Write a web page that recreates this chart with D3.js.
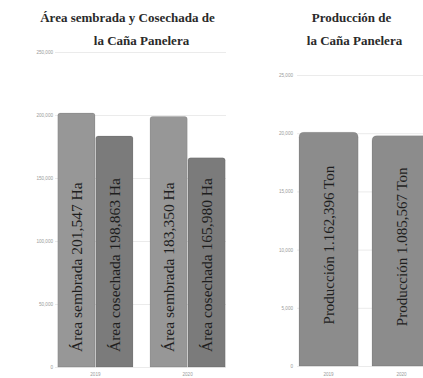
<!DOCTYPE html>
<html><head><meta charset="utf-8">
<script src="https://cdn.jsdelivr.net/npm/d3@7"></script>
<style>html,body{margin:0;padding:0;background:#fff;}svg{display:block;}</style>
</head><body>
<svg id="c" width="423" height="378"></svg>
<script>
// ---- data ----
const areaYears = ["2019", "2020"];
const areaSeries = ["sembrada", "cosechada"];
const areaSembrada = [201547, 198863];
const areaCosechada = [183350, 165980];
const areaLabels = [
  ["Área sembrada 201,547 Ha", "Área cosechada 198,863 Ha"],
  ["Área sembrada 183,350 Ha", "Área cosechada 165,980 Ha"]
];
const areaTicks = [0, 50000, 100000, 150000, 200000, 250000];
const areaTitle = ["Área sembrada y Cosechada de", "la Caña Panelera"];

const prodYears = ["2019", "2020"];
const prodValues = [20080, 19790];
const prodLabels = ["Producción 1.162,396 Ton", "Producción 1.085,567 Ton"];
const prodTicks = [0, 5000, 10000, 15000, 20000, 25000];
const prodTitle = ["Producción de", "la Caña Panelera"];

const svg = d3.select("#c");
const fmt = d3.format(",");

function topRounded(x, y, w, h, r) {
  r = Math.min(r, w / 2, h);
  return `M${x},${y + h}V${y + r}Q${x},${y} ${x + r},${y}H${x + w - r}Q${x + w},${y} ${x + w},${y + r}V${y + h}Z`;
}

function axisY(g, y, ticks, x0, x1, labelX) {
  const ax = d3.axisLeft(y).tickValues(ticks).tickFormat(fmt).tickSize(-(x1 - x0)).tickPadding(labelX);
  g.attr("transform", `translate(${x0},0)`).call(ax);
  g.select(".domain").remove();
  g.selectAll(".tick line").attr("stroke", "#ebebeb").attr("stroke-width", 1);
  g.selectAll(".tick text").attr("fill", "#9a9a9a").attr("font-size", 4.6).attr("font-family", "Liberation Sans, Arial, sans-serif");
}

// ---- left chart ----
{
  const y = d3.scaleLinear().domain([0, 250000]).range([367, 52]);
  const x0 = d3.scaleBand().domain(areaYears).range([49.5, 233.5]).paddingInner(0.185).paddingOuter(0.09);
  const x1 = d3.scaleBand().domain(areaSeries).range([0, x0.bandwidth()]).paddingInner(0.02);
  axisY(svg.append("g"), y, areaTicks, 55, 226, 2);
  const colors = { sembrada: "#979797", cosechada: "#7b7b7b" };
  const rows = [];
  areaYears.forEach((yr, i) => {
    rows.push({ yr, s: "sembrada", v: areaSembrada[i], label: areaLabels[i][0] });
    rows.push({ yr, s: "cosechada", v: areaCosechada[i], label: areaLabels[i][1] });
  });
  svg.append("g").selectAll("path").data(rows).join("path")
    .attr("d", d => topRounded(x0(d.yr) + x1(d.s), y(d.v), x1.bandwidth(), y(0) - y(d.v), 2.5))
    .attr("fill", d => colors[d.s]).attr("stroke", "rgba(0,0,0,0.12)").attr("stroke-width", 0.8);
  svg.append("g").selectAll("text").data(rows).join("text")
    .attr("transform", d => `translate(${x0(d.yr) + x1(d.s) + x1.bandwidth() / 2 + 5.5},${y(0) - 15}) rotate(-90)`)
    .attr("text-anchor", "start")
    .attr("font-family", "Liberation Serif, Times New Roman, serif")
    .attr("font-size", 15.5).attr("fill", "#1e1e1e")
    .text(d => d.label);
  svg.append("g").selectAll("text").data(areaYears).join("text")
    .attr("x", d => x0(d) + x0.bandwidth() / 2).attr("y", 376)
    .attr("text-anchor", "middle").attr("font-size", 4.6).attr("fill", "#9a9a9a")
    .attr("font-family", "Liberation Sans, Arial, sans-serif").text(d => d);
  const tx = [127.5, 141.5];
  svg.append("g").selectAll("text").data(areaTitle).join("text")
    .attr("x", (d, i) => tx[i]).attr("y", (d, i) => 22 + i * 23)
    .attr("text-anchor", "middle").attr("font-family", "Liberation Serif, Times New Roman, serif")
    .attr("font-weight", "bold").attr("font-size", 13).attr("fill", "#2a2a2a").text(d => d);
}

// ---- right chart ----
{
  const y = d3.scaleLinear().domain([0, 25000]).range([366, 75]);
  const x = d3.scaleBand().domain(prodYears).range([295.35, 434.8]).paddingInner(0.19).paddingOuter(0.05);
  axisY(svg.append("g"), y, prodTicks, 297, 423, 4);
  const rows = prodYears.map((yr, i) => ({ yr, v: prodValues[i], label: prodLabels[i] }));
  svg.append("g").selectAll("path").data(rows).join("path")
    .attr("d", d => topRounded(x(d.yr), y(d.v), x.bandwidth(), y(0) - y(d.v), 5))
    .attr("fill", "#8c8c8c").attr("stroke", "rgba(0,0,0,0.12)").attr("stroke-width", 0.8);
  svg.append("g").selectAll("text").data(rows).join("text")
    .attr("transform", d => `translate(${x(d.yr) + x.bandwidth() / 2 + 5.5},${(y(0) + y(d.v)) / 2 - 4}) rotate(-90)`)
    .attr("text-anchor", "middle")
    .attr("font-family", "Liberation Serif, Times New Roman, serif")
    .attr("font-size", 15).attr("fill", "#1e1e1e")
    .text(d => d.label);
  svg.append("g").selectAll("text").data(prodYears).join("text")
    .attr("x", d => x(d) + x.bandwidth() / 2).attr("y", 376)
    .attr("text-anchor", "middle").attr("font-size", 4.6).attr("fill", "#9a9a9a")
    .attr("font-family", "Liberation Sans, Arial, sans-serif").text(d => d);
  const tx = [351.5, 354.5];
  svg.append("g").selectAll("text").data(prodTitle).join("text")
    .attr("x", (d, i) => tx[i]).attr("y", (d, i) => 22 + i * 23)
    .attr("text-anchor", "middle").attr("font-family", "Liberation Serif, Times New Roman, serif")
    .attr("font-weight", "bold").attr("font-size", 13).attr("fill", "#2a2a2a").text(d => d);
}
</script>
</body></html>
